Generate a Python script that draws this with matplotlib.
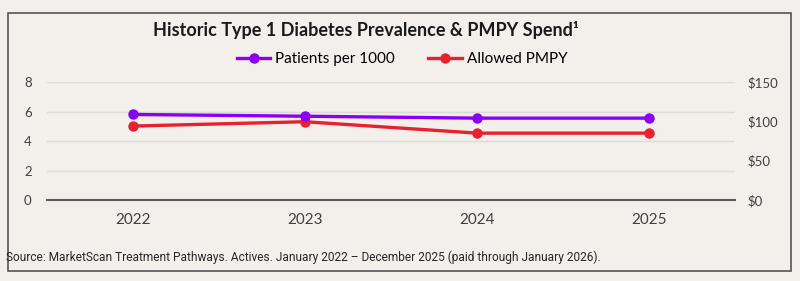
import matplotlib.pyplot as plt
import matplotlib.patches as mpatches
from matplotlib.ticker import FuncFormatter

years = ['2022', '2023', '2024', '2025']
patients_per_1000 = [5.8, 5.68, 5.55, 5.55]
allowed_pmpy = [94, 99.5, 85, 85]

bg = '#f3f0ec'
purple = '#8a00f5'
red = '#e8212f'

fig = plt.figure(figsize=(8, 2.81), dpi=100)
fig.patch.set_facecolor(bg)

# outer frame
fig.add_artist(mpatches.Rectangle((7.5/800, 1-271/281), 783/800, 258/281,
                                  transform=fig.transFigure, fill=False,
                                  edgecolor='#555555', linewidth=1.2))

ax = fig.add_axes([47/800, 1-200/281, 688/800, 118/281])
x = range(len(years))
l1, = ax.plot(x, patients_per_1000, color=purple, lw=2.4, marker='o', ms=6.5,
              label='Patients per 1000', zorder=3)
ax.set_ylim(0, 8)
ax.set_yticks([0, 2, 4, 6, 8])
ax.set_xlim(-0.5, 3.5)
ax.set_xticks(list(x))
ax.set_xticklabels(years, fontsize=11, color='#404040', family='Lato')
ax.tick_params(axis='x', length=0, pad=9)
ax.tick_params(axis='y', length=0, pad=11, labelsize=9.5, labelcolor='#404040')
for lbl in ax.get_yticklabels():
    lbl.set_family('Lato')
ax.yaxis.grid(True, color='#dedad5', lw=1)
ax.set_axisbelow(True)
for s in ['top', 'right', 'left']:
    ax.spines[s].set_visible(False)
ax.spines['bottom'].set_color('#5a5a5a')
ax.spines['bottom'].set_linewidth(1.5)

ax2 = ax.twinx()
l2, = ax2.plot(x, allowed_pmpy, color=red, lw=2.4, marker='o', ms=6.5,
               label='Allowed PMPY', zorder=2)
ax2.set_ylim(0, 150)
ax2.set_yticks([0, 50, 100, 150])
ax2.yaxis.set_major_formatter(FuncFormatter(lambda v, _: f'${v:.0f}'))
ax2.tick_params(axis='y', length=0, pad=9, labelsize=9.5, labelcolor='#404040')
for lbl in ax2.get_yticklabels():
    lbl.set_family('Lato')
for s in ['top', 'right', 'left', 'bottom']:
    ax2.spines[s].set_visible(False)
ax.set_zorder(ax2.get_zorder() + 1)
ax.patch.set_visible(False)
ax2.patch.set_visible(False)

fig.text(366/800, 1-30/281, 'Historic Type 1 Diabetes Prevalence & PMPY Spend\u00b9',
         ha='center', va='center', fontsize=13, fontweight='bold',
         color='#1a1a1a', family='Lato')

fig.legend(handles=[l1, l2], loc='center', bbox_to_anchor=(402/800, 1-59/281),
           ncol=2, frameon=False, handlelength=2.2,
           handletextpad=0.3, columnspacing=2.2,
           prop={'family': 'Lato', 'size': 11})

fig.text(6/800, 1-257/281,
         'Source: MarketScan Treatment Pathways. Actives. January 2022 \u2013 December 2025 (paid through January 2026).',
         ha='left', va='center', fontsize=8.6, color='#262626', family='Roboto')

plt.savefig('out.png', dpi=100, facecolor=bg)
